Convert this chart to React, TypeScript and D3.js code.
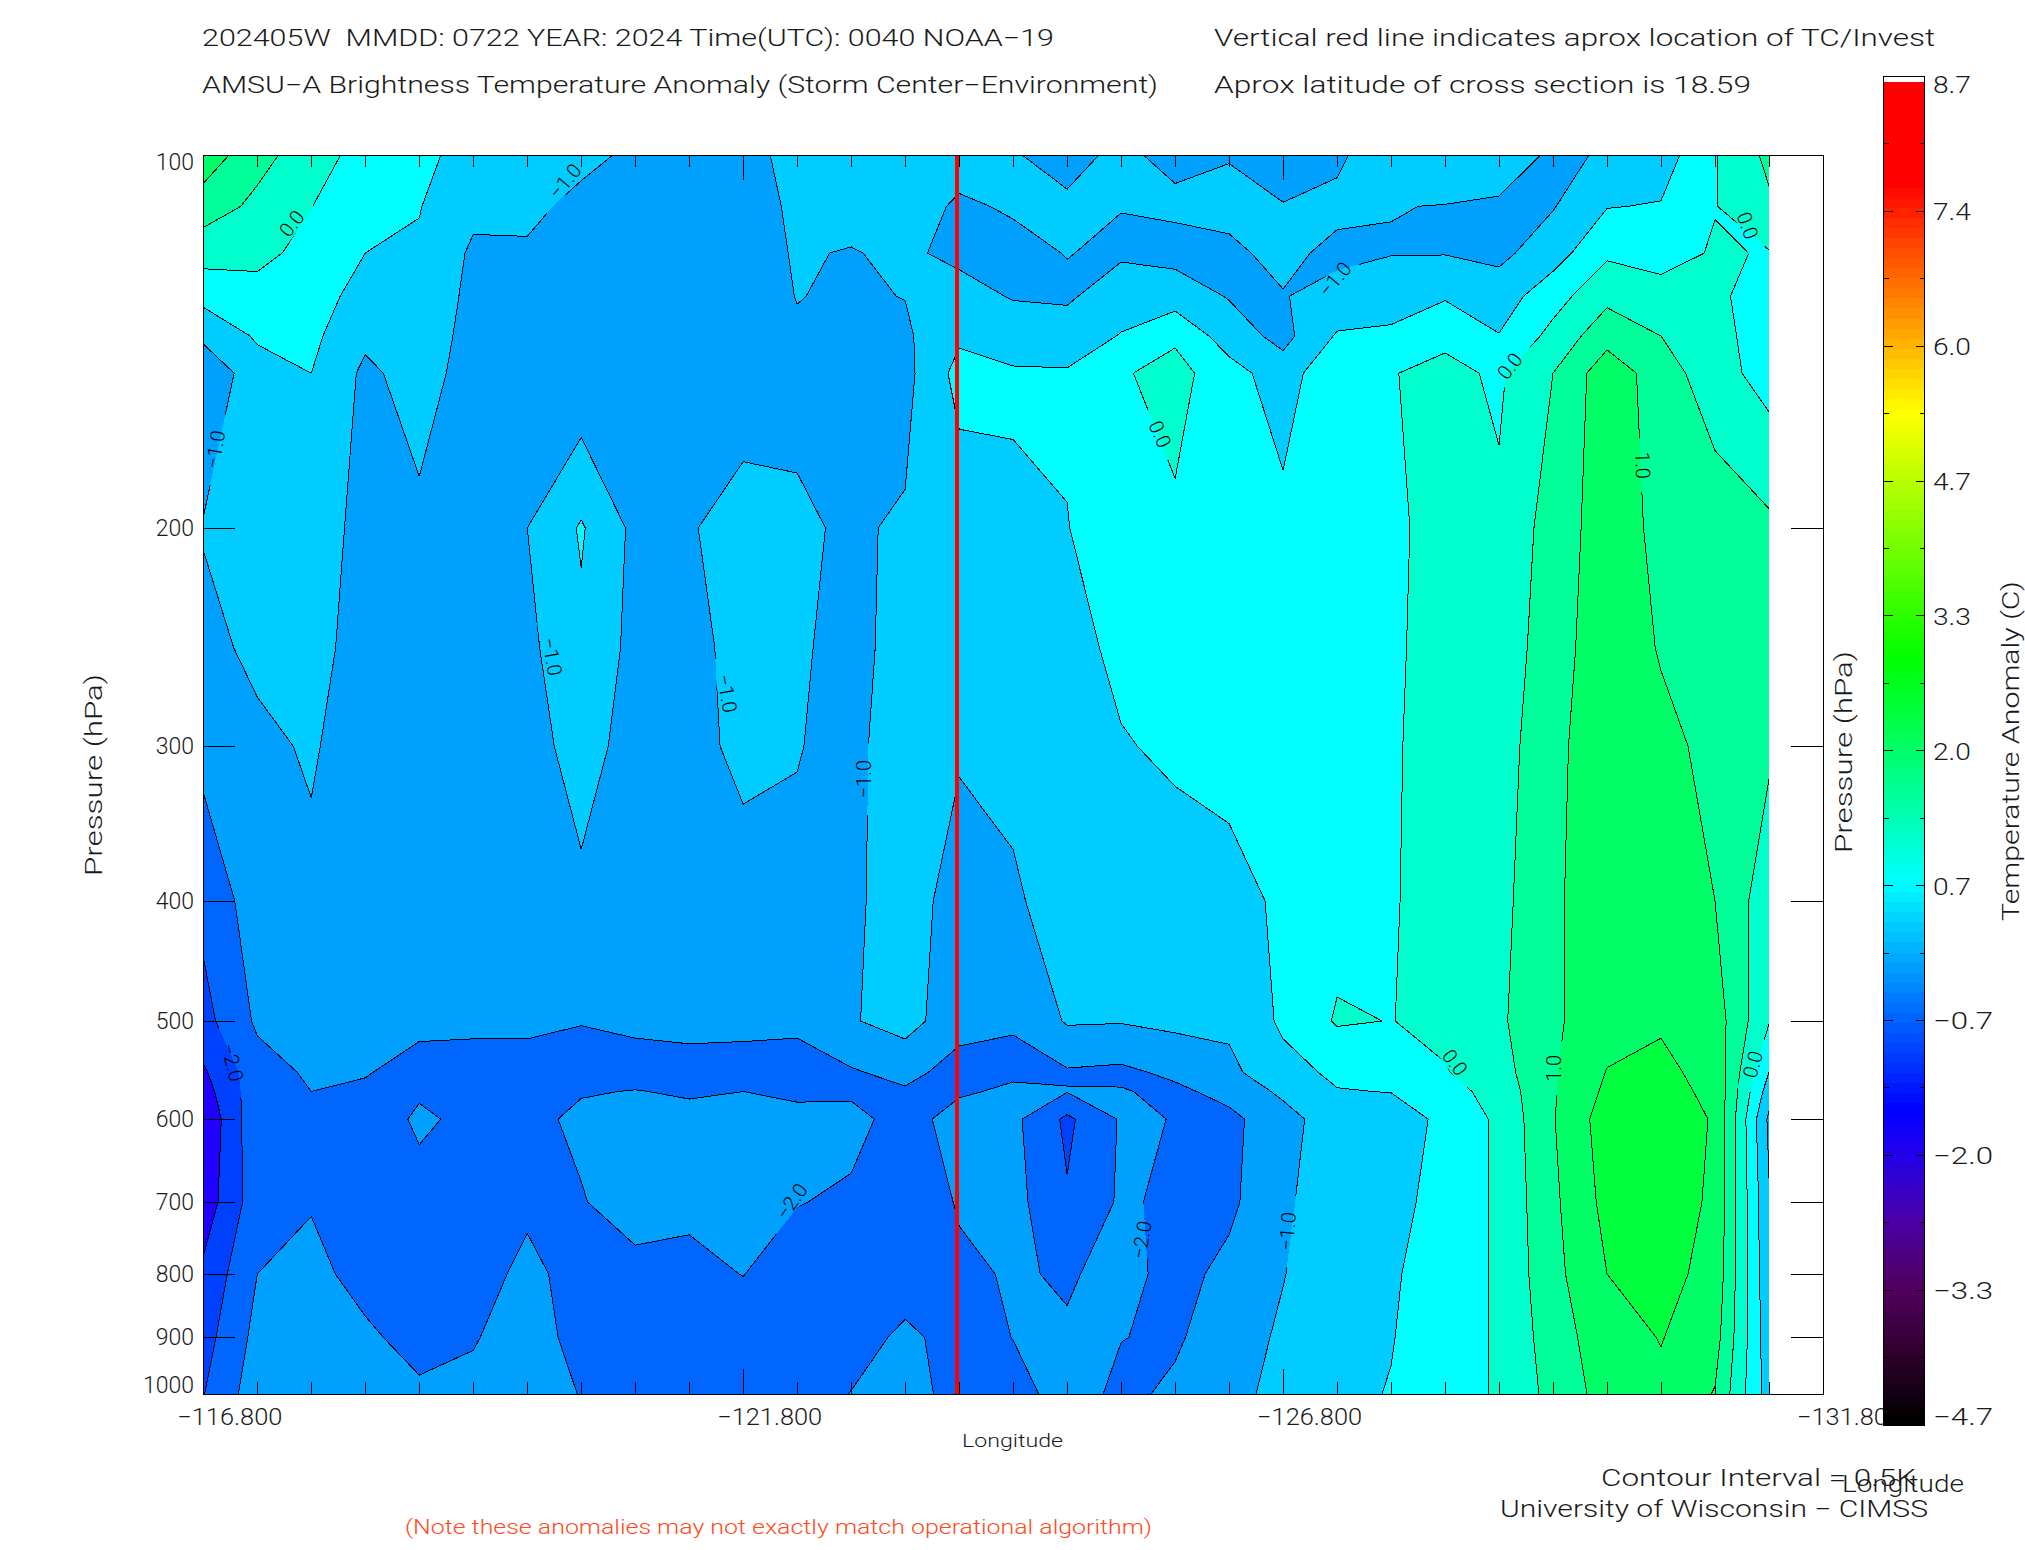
import * as d3 from "d3";

const pressureLevels = [100, 110, 120, 130, 140, 150, 200, 250, 300, 400, 500, 550, 570, 600, 700, 800, 900, 1000];
const firstLon = -116.8;
const lonStep = -0.5;

// one list per longitude column, west of -116.8 going right, values per pressure level
const anomalyByColumn = [
  [1.31, 0.75, 0.2, -0.35, -0.89, -1.4, -0.97, -1.13, -1.35, -1.85, -2.17, -2.57, -2.72, -2.94, -2.8, -2.4, -2.2, -2.02],
  [0.66, 0.39, 0.12, -0.16, -0.44, -0.7, -0.72, -0.9, -1.1, -1.25, -1.42, -1.7, -1.68, -1.62, -1.7, -1.5, -1.35, -1.22],
  [0.25, 0.01, -0.14, -0.27, -0.39, -0.5, -0.68, -0.82, -0.95, -1.1, -1.3, -1.43, -1.5, -1.58, -1.52, -1.42, -1.3, -1.2],
  [-0.21, -0.36, -0.5, -0.7, -0.9, -1.1, -1.2, -1.22, -1.25, -1.3, -1.42, -1.48, -1.55, -1.65, -1.7, -1.6, -1.45, -1.3],
  [-0.42, -0.48, -0.56, -0.64, -0.72, -0.8, -1.1, -1.2, -1.2, -1.25, -1.42, -1.62, -1.53, -1.46, -1.59, -1.75, -1.6, -1.45],
  [-0.62, -0.88, -1.08, -1.13, -1.17, -1.2, -1.22, -1.25, -1.28, -1.32, -1.42, -1.65, -1.6, -1.56, -1.7, -1.72, -1.53, -1.4],
  [-0.72, -0.91, -1.05, -1.1, -1.13, -1.15, -1.0, -1.12, -1.2, -1.3, -1.42, -1.65, -1.6, -1.58, -1.6, -1.37, -1.3, -1.25],
  [-0.9, -1.1, -1.2, -1.25, -1.3, -1.39, -0.45, -0.6, -0.8, -1.1, -1.49, -1.6, -1.52, -1.44, -1.52, -1.7, -1.65, -1.52],
  [-1.07, -1.13, -1.17, -1.18, -1.2, -1.2, -1.12, -1.15, -1.2, -1.3, -1.45, -1.6, -1.49, -1.42, -1.35, -1.6, -1.75, -1.8],
  [-1.2, -1.22, -1.24, -1.25, -1.25, -1.25, -1.03, -1.18, -1.2, -1.3, -1.42, -1.6, -1.53, -1.42, -1.4, -1.62, -1.75, -1.85],
  [-1.08, -1.12, -1.15, -1.18, -1.2, -1.2, -0.85, -0.8, -0.85, -1.25, -1.42, -1.62, -1.5, -1.4, -1.3, -1.49, -1.75, -1.85],
  [-0.92, -0.95, -0.97, -0.99, -1.04, -1.1, -0.945, -0.95, -0.99, -1.05, -1.45, -1.6, -1.55, -1.42, -1.48, -1.75, -1.85, -1.85],
  [-0.7, -0.87, -1.02, -1.05, -1.08, -1.1, -1.05, -1.12, -1.07, -1.05, -1.04, -1.55, -1.58, -1.35, -1.58, -1.85, -1.8, -1.48],
  [-0.85, -0.87, -0.93, -0.99, -1.08, -1.15, -0.95, -0.85, -0.85, -0.87, -0.81, -1.35, -1.56, -1.7, -1.9, -1.85, -1.36, -1.28],
  [-0.88, -1.04, -1.1, -0.84, -0.58, -0.33, -0.8, -0.85, -0.97, -1.12, -1.31, -1.7, -1.56, -1.3, -1.45, -1.6, -1.75, -1.7],
  [-0.98, -0.97, -1.08, -1.03, -0.75, -0.44, -0.58, -0.75, -0.88, -1.06, -1.47, -1.58, -1.42, -1.38, -1.33, -1.45, -1.49, -1.68],
  [-1.1, -0.95, -0.99, -1.06, -0.8, -0.45, -0.51, -0.65, -0.72, -0.8, -0.95, -1.55, -1.48, -2.1, -1.95, -1.55, -1.45, -1.3],
  [-0.93, -0.99, -1.06, -0.77, -0.47, -0.05, -0.3, -0.4, -0.53, -0.7, -0.97, -1.6, -1.47, -1.45, -1.43, -1.35, -1.49, -1.6],
  [-1.1, -0.92, -1.15, -0.75, -0.08, 0.17, -0.08, -0.2, -0.43, -0.7, -0.88, -1.4, -1.6, -1.51, -1.6, -1.65, -1.56, -1.42],
  [-1.02, -0.9, -1.07, -1.03, -0.75, -0.3, -0.15, -0.2, -0.3, -0.7, -0.9, -1.12, -1.35, -1.62, -1.6, -1.38, -1.25, -1.15],
  [-1.35, -0.97, -0.9, -1.02, -1.15, -0.77, -0.34, -0.3, -0.3, -0.4, -0.42, -0.65, -0.9, -1.2, -1.1, -1.02, -0.92, -0.85],
  [-1.08, -0.9, -1.1, -0.85, -0.45, -0.05, -0.05, -0.1, -0.15, -0.2, 0.05, -0.42, -0.52, -0.7, -0.65, -0.65, -0.62, -0.6],
  [-0.7, -0.99, -1.02, -0.7, -0.42, -0.02, -0.08, -0.06, -0.05, -0.03, -0.01, -0.25, -0.49, -0.72, -0.63, -0.55, -0.52, -0.48],
  [-0.75, -1.01, -1.02, -0.55, -0.1, 0.12, 0.15, 0.15, 0.18, 0.15, 0.12, -0.03, -0.2, -0.4, -0.35, -0.3, -0.25, -0.2],
  [-0.8, -1.05, -1.12, -0.75, -0.48, -0.07, 0.08, 0.15, 0.25, 0.35, 0.42, 0.3, 0.2, 0.1, 0.08, 0.07, 0.06, 0.05],
  [-1.06, -1.03, -0.72, -0.2, 0.15, 0.5, 0.73, 0.82, 0.9, 0.92, 0.92, 0.95, 0.95, 0.97, 0.9, 0.85, 0.75, 0.66],
  [-0.97, -0.52, -0.08, 0.37, 0.82, 1.3, 1.25, 1.25, 1.25, 1.3, 1.3, 1.52, 1.6, 1.75, 1.65, 1.5, 1.3, 1.2],
  [-0.75, -0.47, -0.2, 0.2, 0.5, 0.75, 0.88, 0.97, 1.1, 1.3, 1.45, 1.6, 1.65, 1.7, 1.75, 1.65, 1.52, 1.4],
  [-0.03, -0.02, 0.05, 0.04, 0.1, 0.2, 0.8, 0.85, 0.9, 1.0, 1.25, 1.35, 1.4, 1.47, 1.42, 1.35, 1.2, 0.97],
  [0.62, 0.42, -0.03, -0.1, -0.15, -0.2, 0.6, 0.72, 0.58, 0.2, 0.03, -0.5, -0.75, -1.1, -0.96, -0.9, -0.8, -0.75],
];

const bandThresholds = [-9, -2.5, -2, -1.5, -1, -0.5, 0, 0.5, 1, 1.5];
const bandColors = ["#2000ff", "#0040ff", "#0066ff", "#00a0ff", "#00ccff", "#00ffff", "#00ffcc", "#00ff99", "#00ff66", "#00ff3c"];

const pressureTicks = [100, 200, 300, 400, 500, 600, 700, 800, 900, 1000];
const lonLabels = [-116.8, -121.8, -126.8, -131.8];
const stormLon = -123.78;

const barValues = [-4.7, -4.03, -3.36, -2.7, -2.0, -1.63, -0.68, 0.65, 2.87, 5.31, 7.6, 8.7];
const barColors = ["#000000", "#30002e", "#50005f", "#4a00a8", "#2000f0", "#0000ff", "#0066ff", "#00ffff", "#00ff00", "#ffff00", "#ff0000", "#ff0000"];
const barLabels = ["8.7", "7.4", "6.0", "4.7", "3.3", "2.0", "0.7", "−0.7", "−2.0", "−3.3", "−4.7"];

const contourLabels = [
  { text: "0.0", lon: -117.62, p: 113.6, rot: -52 },
  { text: "−1.0", lon: -120.15, p: 105, rot: -50 },
  { text: "−1.0", lon: -116.91, p: 172.9, rot: -80 },
  { text: "−1.0", lon: -120.03, p: 254, rot: 80 },
  { text: "−1.0", lon: -121.65, p: 272, rot: 80 },
  { text: "−1.0", lon: -122.92, p: 319, rot: -90 },
  { text: "−2.0", lon: -117.07, p: 540, rot: 76 },
  { text: "−2.0", lon: -122.25, p: 699, rot: -55 },
  { text: "−2.0", lon: -125.49, p: 751, rot: -80 },
  { text: "−1.0", lon: -126.84, p: 739, rot: -85 },
  { text: "0.0", lon: -125.66, p: 168, rot: 66 },
  { text: "−1.0", lon: -127.28, p: 126, rot: -50 },
  { text: "0.0", lon: -128.9, p: 148, rot: -52 },
  { text: "1.0", lon: -130.13, p: 178, rot: 88 },
  { text: "0.0", lon: -131.1, p: 114, rot: 70 },
  { text: "0.0", lon: -128.39, p: 540, rot: 53 },
  { text: "1.0", lon: -129.31, p: 546, rot: -90 },
  { text: "0.0", lon: -131.15, p: 542, rot: -75 },
];

const width = 2025;
const height = 1550;
const left = 203.3;
const right = 1823;
const top = 155;
const bottom = 1394;

const x = d3.scaleLinear().domain([-116.8, -131.8]).range([left, right]);
const y = d3.scaleLog().domain([100, 1000]).range([top, bottom]);

const nx = anomalyByColumn.length;
const ny = pressureLevels.length;
const columnLons = d3.range(nx).map((i) => firstLon + i * lonStep);
const xIndex = d3.scaleLinear().domain(d3.range(nx)).range(columnLons.map((l) => x(l)));
const yIndex = d3.scaleLinear().domain(d3.range(ny)).range(pressureLevels.map((p) => y(p)));

const gridValues: number[] = [];
for (let j = 0; j < ny; j++) for (let i = 0; i < nx; i++) gridValues.push(anomalyByColumn[i][j]);

const contourGen = d3.contours().size([nx, ny]).smooth(true);
const lineGen = d3.line();

// d3 puts grid node i at i + 0.5, and the outer edge at 0 / size
const toIndex = (pt: number[]) => [
  Math.min(nx - 1, Math.max(0, pt[0] - 0.5)),
  Math.min(ny - 1, Math.max(0, pt[1] - 0.5)),
];
const toScreen = (idx: number[]): [number, number] => [xIndex(idx[0]), yIndex(idx[1])];

const onSameEdge = (a: number[], b: number[]) =>
  (a[0] === 0 && b[0] === 0) ||
  (a[0] === nx - 1 && b[0] === nx - 1) ||
  (a[1] === 0 && b[1] === 0) ||
  (a[1] === ny - 1 && b[1] === ny - 1);

const bands = bandThresholds.map((t, k) => {
  const geom = contourGen.contour(gridValues, t);
  let fillPath = "";
  let linePath = "";
  geom.coordinates.forEach((poly: number[][][]) => {
    poly.forEach((ring) => {
      const idx = ring.map(toIndex);
      fillPath += lineGen(idx.map(toScreen)) + "Z";
      const path = d3.path();
      for (let s = 1; s < idx.length; s++) {
        if (onSameEdge(idx[s - 1], idx[s])) continue;
        const a = toScreen(idx[s - 1]);
        const b = toScreen(idx[s]);
        path.moveTo(a[0], a[1]);
        path.lineTo(b[0], b[1]);
      }
      linePath += path.toString();
    });
  });
  return { t, color: bandColors[k], fillPath, linePath: k === 0 ? "" : linePath };
});

const barTop = 76.5;
const barBottom = 1425;
const barY = d3.scaleLinear().domain([-4.7, 8.7]).range([barBottom, barTop]);
const barColor = d3.scaleLinear<string>().domain(barValues).range(barColors);
const barSteps = d3.range(-4.7, 8.63, 0.1);
const barTicks = d3.range(0, 21).map((i) => -4.7 + (i * 13.4) / 20);

const font = "Roboto, 'Liberation Sans', sans-serif";
const ink = "#1a1a1a";

function Label({ x: px, y: py, len, size = 23, anchor = "start", rot, fill = ink, children }: any) {
  return (
    <text
      x={px}
      y={py}
      fontFamily={font}
      fontWeight={300}
      fontSize={size}
      fill={fill}
      textAnchor={anchor}
      textLength={len}
      lengthAdjust={len ? "spacingAndGlyphs" : undefined}
      transform={rot !== undefined ? `rotate(${rot} ${px} ${py})` : undefined}
      style={{ whiteSpace: "pre" }}
    >
      {children}
    </text>
  );
}

export default function App() {
  const tickSlots = d3.range(0, 31);
  return (
    <svg
      width={width}
      height={height}
      viewBox={`0 0 ${width} ${height}`}
      style={{ position: "absolute", left: 0, top: 0, background: "#fff" }}
    >
      <defs>
        <mask id="labelGaps" maskUnits="userSpaceOnUse" x={0} y={0} width={width} height={height}>
          <rect x={0} y={0} width={width} height={height} fill="#fff" />
          {contourLabels.map((d, i) => {
            const w = d.text.length > 3 ? 72 : 54;
            return (
              <rect
                key={i}
                x={-w / 2}
                y={-9}
                width={w}
                height={18}
                fill="#000"
                transform={`translate(${x(d.lon)},${y(d.p)}) rotate(${d.rot})`}
              />
            );
          })}
        </mask>
      </defs>

      <Label x={202} y={46} len={852}>202405W  MMDD: 0722 YEAR: 2024 Time(UTC): 0040 NOAA−19</Label>
      <Label x={202} y={93} len={956}>AMSU−A Brightness Temperature Anomaly (Storm Center−Environment)</Label>
      <Label x={1214} y={46} len={721}>Vertical red line indicates aprox location of TC/Invest</Label>
      <Label x={1214} y={93} len={537}>Aprox latitude of cross section is 18.59</Label>

      <g shapeRendering="crispEdges">
        {bands.map((b) => (
          <path key={b.t} d={b.fillPath} fill={b.color} fillRule="evenodd" />
        ))}
      </g>
      <g mask="url(#labelGaps)" shapeRendering="crispEdges">
        {bands.map((b) => (
          <path key={b.t} d={b.linePath} fill="none" stroke="#000" strokeWidth={1} />
        ))}
      </g>
      {contourLabels.map((d, i) => (
        <text
          key={i}
          fontFamily={font}
          fontWeight={300}
          fontSize={20}
          fill="#000"
          textAnchor="middle"
          dy={7}
          transform={`translate(${x(d.lon)},${y(d.p)}) rotate(${d.rot})`}
        >
          {d.text}
        </text>
      ))}

      <line x1={x(stormLon)} x2={x(stormLon)} y1={top} y2={bottom} stroke="#ff0000" strokeWidth={4} shapeRendering="crispEdges" />

      <g stroke="#000" strokeWidth={1} shapeRendering="crispEdges">
        {tickSlots.map((i) => {
          const px = x(-116.8 - i * 0.5);
          const len = i % 10 === 0 ? 25 : 12;
          return (
            <g key={i}>
              <line x1={px} x2={px} y1={top} y2={top + len} />
              <line x1={px} x2={px} y1={bottom} y2={bottom - len} />
            </g>
          );
        })}
        {pressureTicks.map((p) => (
          <g key={p}>
            <line x1={left} x2={left + 32} y1={Math.round(y(p)) + 0.5} y2={Math.round(y(p)) + 0.5} />
            <line x1={right} x2={right - 32} y1={Math.round(y(p)) + 0.5} y2={Math.round(y(p)) + 0.5} />
          </g>
        ))}
        <rect x={left} y={top} width={right - left} height={bottom - top} fill="none" />
      </g>

      {pressureTicks.map((p) => (
        <Label key={p} x={194} y={Math.max(162, Math.min(1385, y(p))) + 8} anchor="end">
          {p}
        </Label>
      ))}
      {lonLabels.map((l) => (
        <Label key={l} x={x(l) - 26} y={1425} len={105}>
          {"−" + Math.abs(l).toFixed(3)}
        </Label>
      ))}
      <Label x={102} y={775} anchor="middle" rot={-90} len={202} size={24}>Pressure (hPa)</Label>
      <Label x={1852} y={752} anchor="middle" rot={-90} len={202} size={24}>Pressure (hPa)</Label>
      <Label x={962} y={1447} len={101} size={19}>Longitude</Label>

      <g shapeRendering="crispEdges">
        {barSteps.map((v) => (
          <rect key={v} x={1883.5} width={41} y={barY(v + 0.1)} height={barY(v) - barY(v + 0.1) + 0.5} fill={barColor(v)} />
        ))}
        <rect x={1883.5} width={41} y={barTop} height={5} fill="#fff" />
        <rect x={1883.5} width={41} y={barTop} height={barBottom - barTop} fill="none" stroke="#000" strokeWidth={1} />
        {barTicks.map((v, i) => {
          const len = i % 2 === 0 ? 9 : 5;
          return (
            <g key={i} stroke="#000" strokeWidth={1}>
              <line x1={1883.5} x2={1883.5 + len} y1={barY(v)} y2={barY(v)} />
              <line x1={1924.5} x2={1924.5 - len} y1={barY(v)} y2={barY(v)} />
            </g>
          );
        })}
      </g>
      {barLabels.map((t, i) => (
        <Label key={t} x={1933} y={Math.max(84, Math.min(1416, barY(8.7 - i * 1.34))) + 9} len={t.length > 3 ? 60 : 38}>
          {t}
        </Label>
      ))}
      <Label x={2019} y={751} anchor="middle" rot={-90} len={340} size={23}>Temperature Anomaly (C)</Label>

      <Label x={1601} y={1486} len={315}>Contour Interval = 0.5K</Label>
      <Label x={1842} y={1492} len={122}>Longitude</Label>
      <Label x={1500} y={1517} len={428}>University of Wisconsin − CIMSS</Label>
      <Label x={405} y={1534} len={747} size={20} fill="#ff4a20">(Note these anomalies may not exactly match operational algorithm)</Label>
    </svg>
  );
}
